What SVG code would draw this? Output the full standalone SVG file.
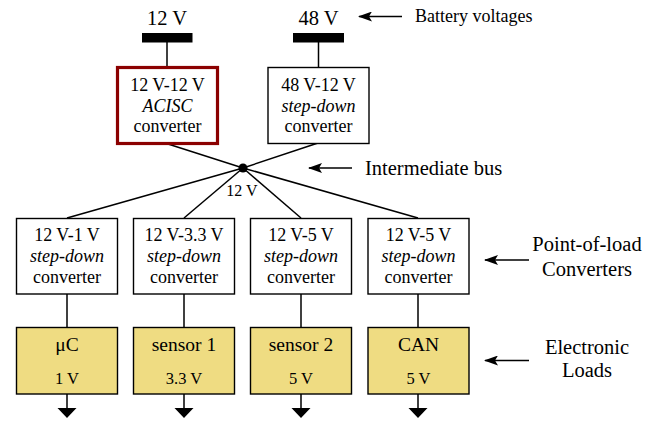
<svg xmlns="http://www.w3.org/2000/svg" width="653" height="422" viewBox="0 0 653 422">
<style>
text{font-family:"Liberation Serif","DejaVu Serif",serif;fill:#000;text-anchor:middle}
.box{fill:#fff;stroke:#000;stroke-width:1.4}
.red{fill:#fff;stroke:#8b0000;stroke-width:3.2}
.load{fill:#efdc82;stroke:#000;stroke-width:1.4}
.ln{stroke:#000;stroke-width:1.5;fill:none}
.bt{font-size:18px}
.lt{font-size:19.5px}
.lv{font-size:16.5px}
.side{font-size:20.5px}
</style>
<defs>
<marker id="ah" viewBox="0 0 14 10" refX="13" refY="5" markerWidth="14" markerHeight="10" markerUnits="userSpaceOnUse" orient="auto">
<path d="M0,0 L14,5 L0,10 L3,5 Z" fill="#000"/>
</marker>
</defs>

<g id="connectors">
<line class="ln" x1="167" y1="42" x2="167" y2="67"/>
<line class="ln" x1="318.5" y1="42" x2="318.5" y2="67"/>
<line class="ln" x1="168" y1="144" x2="243" y2="168"/>
<line class="ln" x1="318" y1="143" x2="243" y2="168"/>
<line class="ln" x1="243" y1="168" x2="67" y2="218"/>
<line class="ln" x1="243" y1="168" x2="184" y2="218"/>
<line class="ln" x1="243" y1="168" x2="301" y2="218"/>
<line class="ln" x1="243" y1="168" x2="418" y2="218"/>
<line class="ln" x1="67" y1="294" x2="67" y2="327"/>
<line class="ln" x1="184" y1="294" x2="184" y2="327"/>
<line class="ln" x1="301" y1="294" x2="301" y2="327"/>
<line class="ln" x1="418" y1="294" x2="418" y2="327"/>
<line class="ln" x1="67" y1="394" x2="67" y2="409"/>
<line class="ln" x1="184" y1="394" x2="184" y2="409"/>
<line class="ln" x1="301" y1="394" x2="301" y2="409"/>
<line class="ln" x1="418" y1="394" x2="418" y2="409"/>
<path d="M57.5,408 H76.5 L67,418 Z M174.5,408 H193.5 L184,418 Z M291.5,408 H310.5 L301,418 Z M408.5,408 H427.5 L418,418 Z" fill="#000"/>
<line class="ln" x1="402" y1="16.5" x2="359" y2="16.5" marker-end="url(#ah)"/>
<line class="ln" x1="352" y1="168" x2="309" y2="168" marker-end="url(#ah)"/>
<line class="ln" x1="529" y1="260" x2="485" y2="260" marker-end="url(#ah)"/>
<line class="ln" x1="529" y1="360.5" x2="485" y2="360.5" marker-end="url(#ah)"/>
</g>

<g id="bat12">
<text x="167" y="25" style="font-size:20.5px">12 V</text>
<rect x="142" y="33" width="50.5" height="9.5" fill="#000"/>
</g>
<g id="bat48">
<text x="318.5" y="25" style="font-size:20.5px">48 V</text>
<rect x="293" y="33" width="51" height="9.5" fill="#000"/>
</g>
<g id="label-battery">
<text x="415" y="22" style="font-size:18px;text-anchor:start">Battery voltages</text>
</g>

<g id="acisc">
<rect class="red" x="117.5" y="67.5" width="100" height="76"/>
<text class="bt" x="167.5" y="91">12 V-12 V</text>
<text class="bt" x="167.5" y="111.5" font-style="italic">ACISC</text>
<text class="bt" x="167.5" y="132">converter</text>
</g>
<g id="stepdown48">
<rect class="box" x="268" y="67.5" width="101" height="76"/>
<text class="bt" x="318.5" y="91">48 V-12 V</text>
<text class="bt" x="318.5" y="111.5" font-style="italic">step-down</text>
<text class="bt" x="318.5" y="132">converter</text>
</g>

<g id="bus">
<circle cx="243" cy="168" r="4.5" fill="#000"/>
<text x="242" y="196" style="font-size:16px">12 V</text>
</g>
<g id="label-bus">
<text x="365" y="175" class="side" style="text-anchor:start">Intermediate bus</text>
</g>

<g id="pol1">
<rect class="box" x="16.5" y="218.5" width="101" height="75.5"/>
<text class="bt" x="67" y="241">12 V-1 V</text>
<text class="bt" x="67" y="262" font-style="italic">step-down</text>
<text class="bt" x="67" y="283">converter</text>
</g>
<g id="pol2">
<rect class="box" x="133.5" y="218.5" width="101" height="75.5"/>
<text class="bt" x="184" y="241">12 V-3.3 V</text>
<text class="bt" x="184" y="262" font-style="italic">step-down</text>
<text class="bt" x="184" y="283">converter</text>
</g>
<g id="pol3">
<rect class="box" x="250.5" y="218.5" width="101" height="75.5"/>
<text class="bt" x="301" y="241">12 V-5 V</text>
<text class="bt" x="301" y="262" font-style="italic">step-down</text>
<text class="bt" x="301" y="283">converter</text>
</g>
<g id="pol4">
<rect class="box" x="368" y="218.5" width="101" height="75.5"/>
<text class="bt" x="418.5" y="241">12 V-5 V</text>
<text class="bt" x="418.5" y="262" font-style="italic">step-down</text>
<text class="bt" x="418.5" y="283">converter</text>
</g>
<g id="label-pol">
<text x="587" y="251" class="side">Point-of-load</text>
<text x="587" y="276" class="side">Converters</text>
</g>

<g id="load1">
<rect class="load" x="16.5" y="327.5" width="101" height="66.5"/>
<text class="lt" x="67" y="351">μC</text>
<text class="lv" x="67" y="384">1 V</text>
</g>
<g id="load2">
<rect class="load" x="133.5" y="327.5" width="101" height="66.5"/>
<text class="lt" x="184" y="351">sensor 1</text>
<text class="lv" x="184" y="384">3.3 V</text>
</g>
<g id="load3">
<rect class="load" x="250.5" y="327.5" width="101" height="66.5"/>
<text class="lt" x="301" y="351">sensor 2</text>
<text class="lv" x="301" y="384">5 V</text>
</g>
<g id="load4">
<rect class="load" x="368" y="327.5" width="101" height="66.5"/>
<text class="lt" x="418.5" y="351">CAN</text>
<text class="lv" x="418.5" y="384">5 V</text>
</g>
<g id="label-loads">
<text x="587" y="354" class="side">Electronic</text>
<text x="587" y="377" class="side">Loads</text>
</g>
</svg>
